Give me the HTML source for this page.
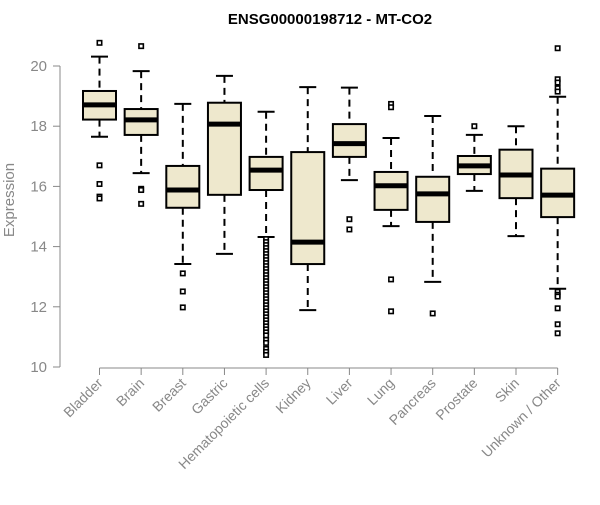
<!DOCTYPE html>
<html><head><meta charset="utf-8"><style>
body{margin:0;background:#fff;}
svg text{font-family:"Liberation Sans",Arial,sans-serif;}
</style></head><body>
<svg id="chart" width="600" height="500" xmlns="http://www.w3.org/2000/svg">
<text x="330" y="24" text-anchor="middle" font-size="15" font-weight="bold" fill="#000">ENSG00000198712 - MT-CO2</text>
<text transform="translate(14,200) rotate(-90)" text-anchor="middle" font-size="15" fill="#888">Expression</text>
<g id="axes"></g>
<g id="marks"></g>
</svg>
<script>
const categories=["Bladder","Brain","Breast","Gastric","Hematopoietic cells","Kidney","Liver","Lung","Pancreas","Prostate","Skin","Unknown / Other"];
const whiskerHigh=[20.31,19.83,18.74,19.67,18.48,19.30,19.28,17.61,18.34,17.71,18.0,18.98];
const q3=[19.17,18.57,16.68,18.78,16.98,17.14,18.07,16.48,16.32,17.01,17.22,16.59];
const medians=[18.71,18.21,15.88,18.07,16.54,14.15,17.42,16.02,15.75,16.68,16.38,15.71];
const q1=[18.22,17.71,15.29,15.72,15.88,13.42,16.98,15.22,14.82,16.41,15.61,14.98];
const whiskerLow=[17.65,16.44,13.42,13.76,14.32,11.89,16.21,14.68,12.83,15.85,14.35,12.60];
const outliers=[
 [20.77,16.70,16.08,15.66,15.60],
 [20.66,15.92,15.88,15.42],
 [13.11,12.51,11.98],
 [],
 [14.25,14.15,14.05,13.95,13.85,13.75,13.65,13.55,13.45,13.35,13.25,13.15,13.05,12.95,12.85,12.75,12.65,12.55,12.45,12.35,12.25,12.15,12.05,11.95,11.85,11.75,11.65,11.55,11.45,11.35,11.25,11.15,11.05,10.9,10.8,10.6,10.5,10.4],
 [],
 [14.91,14.57],
 [18.74,18.63,12.91,11.85],
 [11.78],
 [18.00],
 [],
 [20.59,19.56,19.45,19.26,19.15,12.50,12.40,12.34,11.95,11.42,11.12]
];
const yTicks=[10,12,14,16,18,20];
const NS="http://www.w3.org/2000/svg";
const y=v=>367-(v-10)*30.1;
const x=i=>99.5+i*41.65;
function mk(tag,attrs,parent){const e=document.createElementNS(NS,tag);for(const k in attrs)e.setAttribute(k,attrs[k]);parent.appendChild(e);return e;}
const axes=document.getElementById('axes'),marks=document.getElementById('marks');
let a=mk('line',{x1:60,x2:60,y1:y(20),y2:y(10),stroke:'#888','stroke-width':1},axes);


yTicks.forEach(t=>{
 let l=mk('line',{x1:53,x2:60,y1:y(t),y2:y(t),stroke:'#888'},axes);
 
 
 let tx=mk('text',{x:47,y:y(t)+5,'text-anchor':'end','font-size':15,fill:'#888'},axes);
 tx.textContent=t;
 
 
});
a=mk('line',{x1:x(0),x2:x(11),y1:368,y2:368,stroke:'#888'},axes);


categories.forEach((c,i)=>{
 let l=mk('line',{x1:x(i),x2:x(i),y1:368,y2:375,stroke:'#888'},axes);
 
 
 let tx=mk('text',{transform:`translate(${x(i)+4},${384}) rotate(-45)`,'text-anchor':'end','font-size':14,fill:'#888'},axes);
 tx.textContent=c;
 
 
 const g=mk('g',{},marks);
 
 
 const cx=x(i),hw=16.5,cw=8.5;
 mk('line',{x1:cx,x2:cx,y1:y(whiskerHigh[i]),y2:y(q3[i]),stroke:'#000','stroke-width':2,'stroke-dasharray':'7,5'},g);
 mk('line',{x1:cx,x2:cx,y1:y(q1[i]),y2:y(whiskerLow[i]),stroke:'#000','stroke-width':2,'stroke-dasharray':'7,5'},g);
 mk('line',{x1:cx-cw,x2:cx+cw,y1:y(whiskerHigh[i]),y2:y(whiskerHigh[i]),stroke:'#000','stroke-width':2},g);
 mk('line',{x1:cx-cw,x2:cx+cw,y1:y(whiskerLow[i]),y2:y(whiskerLow[i]),stroke:'#000','stroke-width':2},g);
 mk('rect',{x:cx-hw,y:y(q3[i]),width:hw*2,height:y(q1[i])-y(q3[i]),fill:'#EEE8CD',stroke:'#000','stroke-width':2},g);
 mk('line',{x1:cx-hw,x2:cx+hw,y1:y(medians[i]),y2:y(medians[i]),stroke:'#000','stroke-width':5},g);
 outliers[i].forEach(v=>{
  let p=mk('rect',{x:cx-2.2,y:y(v)-2.2,width:4.4,height:4.4,fill:'#fff',stroke:'#000','stroke-width':1.6},g);
  
  
 });
});
</script>
</body></html>
